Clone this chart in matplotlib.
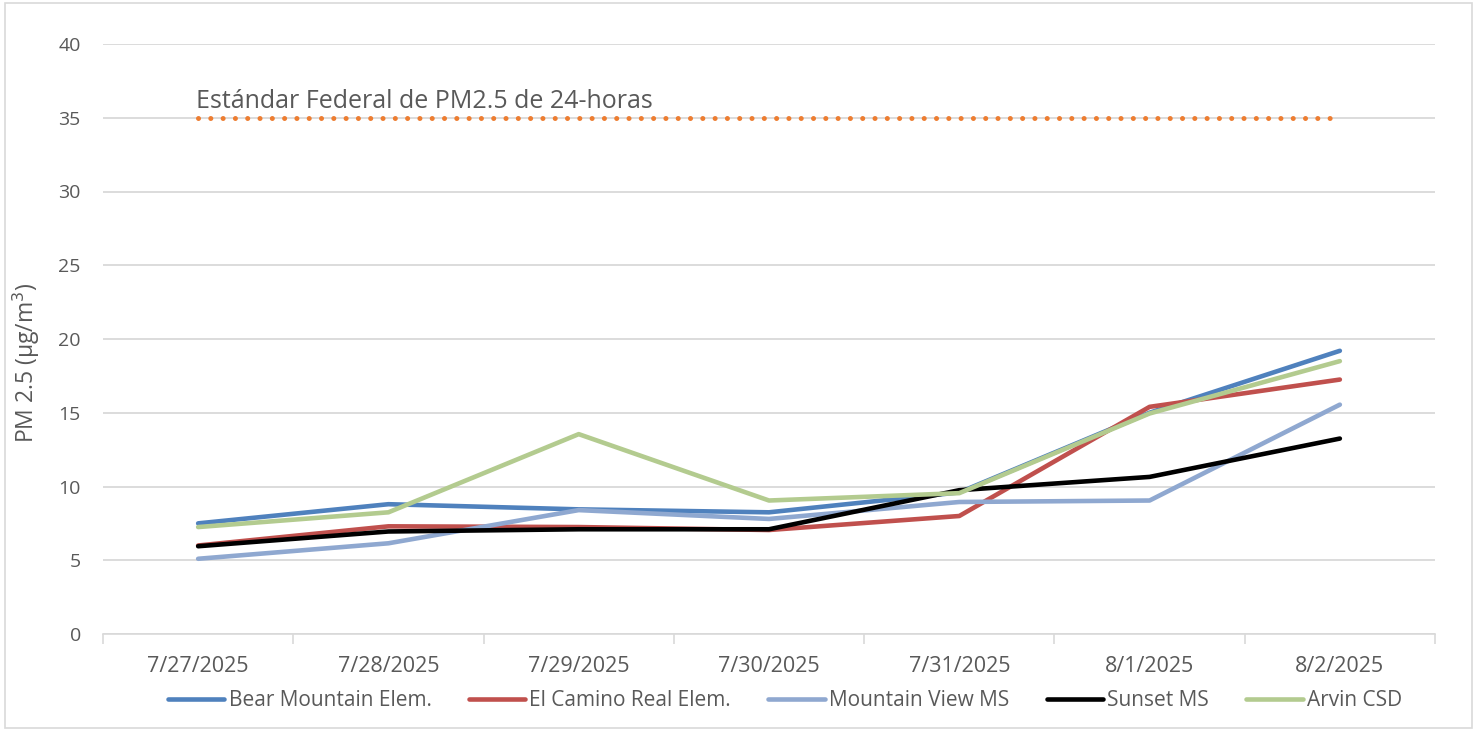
import matplotlib
matplotlib.use("Agg")
import matplotlib.pyplot as plt
from matplotlib.patches import Rectangle

dates = ["7/27/2025", "7/28/2025", "7/29/2025", "7/30/2025", "7/31/2025", "8/1/2025", "8/2/2025"]
bear_mountain = [7.5, 8.8, 8.45, 8.25, 9.6, 15.0, 19.2]
el_camino = [6.0, 7.3, 7.25, 7.05, 8.0, 15.4, 17.25]
mountain_view = [5.1, 6.15, 8.4, 7.8, 8.95, 9.05, 15.55]
sunset = [5.95, 6.95, 7.1, 7.1, 9.75, 10.65, 13.25]
arvin = [7.25, 8.25, 13.55, 9.05, 9.55, 14.95, 18.5]
standard = [35] * 7
series_names = ["Bear Mountain Elem.", "El Camino Real Elem.", "Mountain View MS", "Sunset MS", "Arvin CSD"]
series_colors = ["#4F81BD", "#C0504D", "#8FA8D0", "#000000", "#B3CB8F"]
standard_label = "Estándar Federal de PM2.5 de 24-horas"
y_ticks = [0, 5, 10, 15, 20, 25, 30, 35, 40]

plt.rcParams['font.family'] = ['Open Sans', 'DejaVu Sans']

fig = plt.figure(figsize=(14.79, 7.30), dpi=100)
ax = fig.add_axes([103/1479, 1 - 634/730, (1435-103)/1479, (634-44)/730])

x = list(range(len(dates)))
for vals, name, col in zip([bear_mountain, el_camino, mountain_view, sunset, arvin], series_names, series_colors):
    ax.plot(x, vals, color=col, lw=3.3, label=name, solid_capstyle='round', solid_joinstyle='round', zorder=3)

ax.plot(x, standard, color="#ED7D31", lw=3.6, linestyle=(0, (0.01, 2.45)), dash_capstyle='round', zorder=3)
ax.text(-0.01, 35.65, standard_label, fontsize=18, color="#595959", ha='left', va='baseline')

ax.set_xlim(-0.5, len(dates) - 0.5)
ax.set_ylim(0, 40)
ax.set_yticks(y_ticks)
ax.set_xticks(x)
ax.set_xticklabels(dates)
ax.set_xticks([i - 0.5 for i in range(len(dates) + 1)], minor=True)
ax.tick_params(axis='x', which='major', length=0, pad=16, labelsize=15.5, labelcolor="#595959")
ax.tick_params(axis='x', which='minor', length=7, color="#D9D9D9", width=1.2)
ax.tick_params(axis='y', length=0, pad=16, labelsize=14, labelcolor="#595959")
ax.grid(axis='y', color="#D9D9D9", lw=1.3, zorder=0)
for s in ['top', 'right', 'left']:
    ax.spines[s].set_visible(False)
ax.spines['bottom'].set_color("#D9D9D9")
ax.spines['bottom'].set_linewidth(1.2)
ax.set_ylabel("PM 2.5 (µg/m$^3$)", fontsize=16.5, color="#595959")
ax.yaxis.set_label_coords(-0.0455, 0.459)

leg = ax.legend(loc='center', bbox_to_anchor=(0.512, -0.113), ncol=5, frameon=False,
                fontsize=15, handlelength=2.7, handletextpad=0.2, columnspacing=1.8)
for t in leg.get_texts():
    t.set_color("#595959")

fig.patches.append(Rectangle((5/1479, 2/730), 1467/1479, 725/730, transform=fig.transFigure,
                             fill=False, edgecolor="#D9D9D9", lw=1.2))

fig.savefig("out.png", dpi=100)
